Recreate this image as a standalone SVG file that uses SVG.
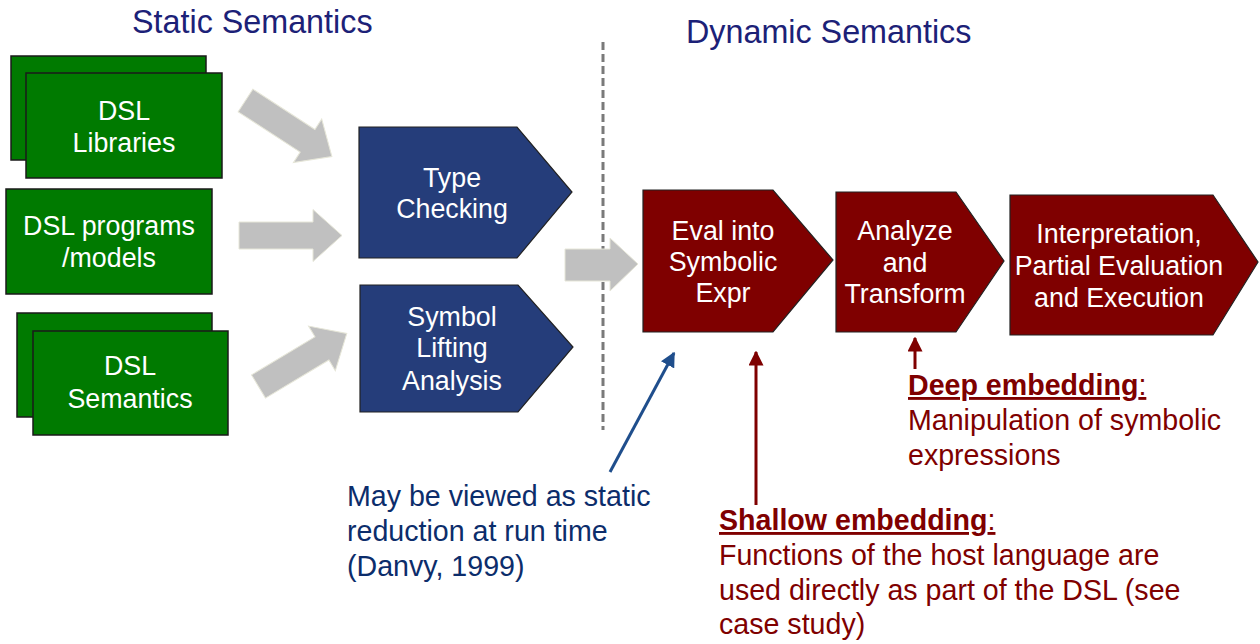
<svg xmlns="http://www.w3.org/2000/svg" width="1260" height="644" viewBox="0 0 1260 644">
<defs>
<style>
text{font-family:"Liberation Sans",Arial,sans-serif}
.title{font-size:32.3px;fill:#1c2177}
.nt{font-size:26.8px;fill:#ffffff;text-anchor:middle}
.green{fill:#007a00;stroke:#1a1a1a;stroke-width:1.5}
.blue{fill:#253d7a;stroke:#222;stroke-width:1.2}
.red{fill:#7f0000;stroke:#222;stroke-width:1.2}
.garrow{fill:#c0c0c0;stroke:#e6e6d8;stroke-width:1}
.ann{font-size:28.6px}
.navy{fill:#0c2d6b}
.mar{fill:#7f0000}
</style>
<marker id="hb" viewBox="0 0 10 10" refX="9" refY="5" markerWidth="5" markerHeight="5" orient="auto" markerUnits="strokeWidth"><path d="M0,0 L10,5 L0,10 Z" fill="#1f4e8c"/></marker>
<marker id="hr" viewBox="0 0 10 10" refX="9" refY="5" markerWidth="5" markerHeight="5" orient="auto" markerUnits="strokeWidth"><path d="M0,0 L10,5 L0,10 Z" fill="#7f0000"/></marker>
<path id="blk" d="M0,-13.5 L74,-13.5 L74,-26 L103,0 L74,26 L74,13.5 L0,13.5 Z"/>
</defs>
<rect width="1260" height="644" fill="#ffffff"/>

<text class="title" x="132" y="33">Static Semantics</text>
<text class="title" x="686" y="43">Dynamic Semantics</text>

<g id="connectors">
<line x1="603" y1="42" x2="603" y2="430" stroke="#7a7a7a" stroke-width="3" stroke-dasharray="8,4"/>
<use href="#blk" class="garrow" transform="translate(245.5,100.5) rotate(33)"/>
<use href="#blk" class="garrow" transform="translate(239,235.5)"/>
<use href="#blk" class="garrow" transform="translate(258.5,386.5) rotate(-31)"/>
<path class="garrow" d="M565,249 L610,249 L610,238 L638,264 L610,291 L610,281 L565,281 Z"/>
<line x1="610" y1="472" x2="674" y2="353" stroke="#1f4e8c" stroke-width="3" marker-end="url(#hb)"/>
<line x1="756" y1="505" x2="756" y2="352" stroke="#7f0000" stroke-width="3" marker-end="url(#hr)"/>
<line x1="915" y1="369" x2="915" y2="338" stroke="#7f0000" stroke-width="3" marker-end="url(#hr)"/>
</g>

<g id="dsl-libraries">
<rect class="green" x="11" y="56" width="195" height="104"/>
<rect class="green" x="26" y="73" width="196" height="105"/>
<text class="nt" x="124" y="120">DSL</text>
<text class="nt" x="124" y="152">Libraries</text>
</g>
<g id="dsl-programs">
<rect class="green" x="6" y="189" width="206" height="105"/>
<text class="nt" x="109" y="235">DSL programs</text>
<text class="nt" x="109" y="267">/models</text>
</g>
<g id="dsl-semantics">
<rect class="green" x="17" y="313" width="195" height="104"/>
<rect class="green" x="33" y="331" width="195" height="104"/>
<text class="nt" x="130" y="375">DSL</text>
<text class="nt" x="130" y="408">Semantics</text>
</g>

<g id="type-checking">
<path class="blue" d="M359,127 L517,127 L572,192 L517,258 L359,258 Z"/>
<text class="nt" x="452" y="187">Type</text>
<text class="nt" x="452" y="218">Checking</text>
</g>
<g id="symbol-lifting">
<path class="blue" d="M360,285 L518,285 L573,347 L518,412 L360,412 Z"/>
<text class="nt" x="452" y="326">Symbol</text>
<text class="nt" x="452" y="357">Lifting</text>
<text class="nt" x="452" y="390">Analysis</text>
</g>

<g id="eval">
<path class="red" d="M643,190 L773,190 L833,260 L773,332 L643,332 Z"/>
<text class="nt" x="723" y="240">Eval into</text>
<text class="nt" x="723" y="271">Symbolic</text>
<text class="nt" x="723" y="302">Expr</text>
</g>
<g id="analyze">
<path class="red" d="M836,192 L956,192 L1004,261 L956,332 L836,332 Z"/>
<text class="nt" x="905" y="240">Analyze</text>
<text class="nt" x="905" y="272">and</text>
<text class="nt" x="905" y="303">Transform</text>
</g>
<g id="interpretation">
<path class="red" d="M1010,195 L1213,195 L1258,262 L1213,335 L1010,335 Z"/>
<text class="nt" x="1119" y="243">Interpretation,</text>
<text class="nt" x="1119" y="275">Partial Evaluation</text>
<text class="nt" x="1119" y="307">and Execution</text>
</g>

<g id="note-static">
<text class="ann navy" x="347" y="506">May be viewed as static</text>
<text class="ann navy" x="347" y="541">reduction at run time</text>
<text class="ann navy" x="347" y="576">(Danvy, 1999)</text>
</g>
<g id="note-deep">
<text class="ann mar" x="908" y="395" text-decoration="underline"><tspan font-weight="bold">Deep embedding</tspan>:</text>
<text class="ann mar" x="908" y="430">Manipulation of symbolic</text>
<text class="ann mar" x="908" y="465">expressions</text>
</g>
<g id="note-shallow">
<text class="ann mar" x="719" y="530" text-decoration="underline"><tspan font-weight="bold">Shallow embedding</tspan>:</text>
<text class="ann mar" x="719" y="565">Functions of the host language are</text>
<text class="ann mar" x="719" y="600">used directly as part of the DSL (see</text>
<text class="ann mar" x="719" y="634">case study)</text>
</g>
</svg>
